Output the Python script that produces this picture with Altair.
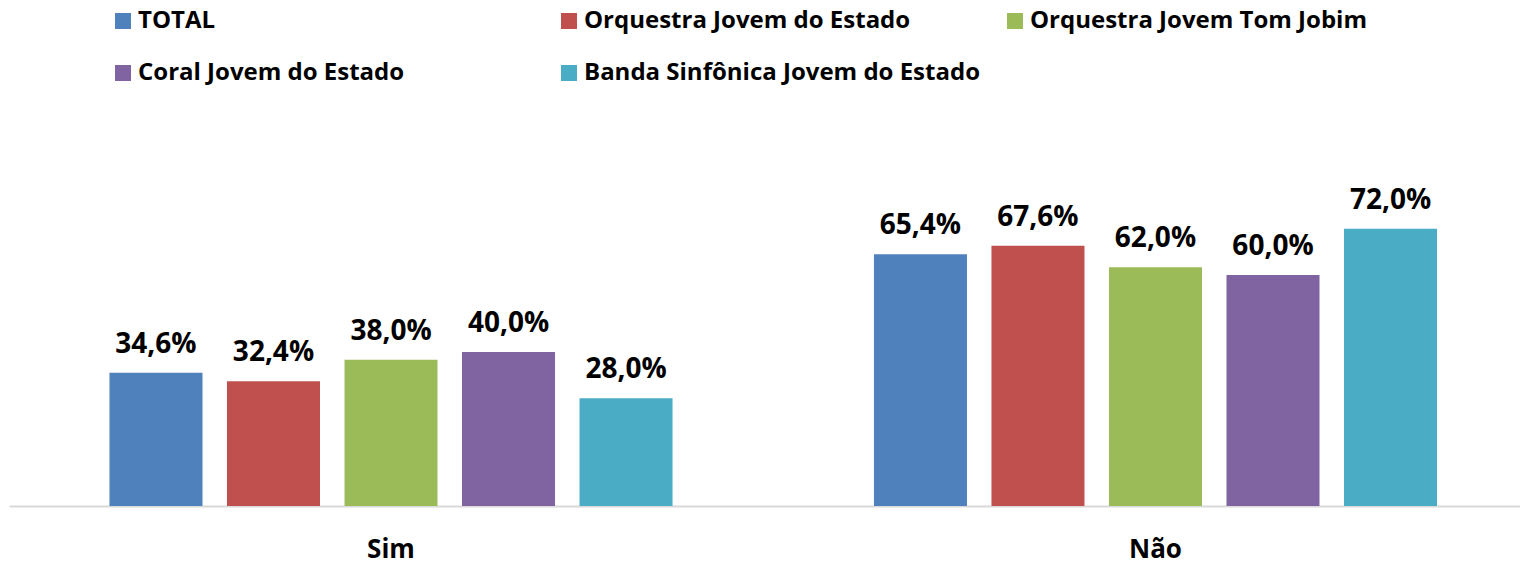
import altair as alt
import pandas as pd

categories = ["Sim", "Não"]
series = [
    "TOTAL",
    "Orquestra Jovem do Estado",
    "Orquestra Jovem Tom Jobim",
    "Coral Jovem do Estado",
    "Banda Sinfônica Jovem do Estado",
]
sim_values = [34.6, 32.4, 38.0, 40.0, 28.0]
nao_values = [65.4, 67.6, 62.0, 60.0, 72.0]
colors = ["#4F81BD", "#C0504D", "#9BBB59", "#8064A2", "#4BACC6"]

rows = []
for cat, vals in zip(categories, [sim_values, nao_values]):
    for s, v in zip(series, vals):
        rows.append({"cat": cat, "serie": s, "valor": v,
                     "rotulo": f"{v:.1f}%".replace(".", ",")})
df = pd.DataFrame(rows)

FONT = "Open Sans"

base = alt.Chart(df).encode(
    x=alt.X(
        "cat:N", sort=categories,
        scale=alt.Scale(paddingInner=0.2315, paddingOuter=0.104, align=0.555),
        axis=alt.Axis(title=None, labelAngle=0, ticks=False, tickSize=0,
                      labelPadding=51, labelBaseline="alphabetic",
                      labelFontSize=26, labelFontWeight="bold", labelFont=FONT,
                      labelColor="black", domainColor="#d9d9d9", domainWidth=2,
                      grid=False),
    ),
    xOffset=alt.XOffset("serie:N", sort=series,
                        scale=alt.Scale(paddingInner=0.2085, paddingOuter=0.104)),
    y=alt.Y("valor:Q", scale=alt.Scale(domain=[0, 80]), axis=None),
)

bars = base.mark_bar().encode(
    color=alt.Color(
        "serie:N",
        scale=alt.Scale(domain=series, range=colors),
        legend=alt.Legend(
            title=None, orient="none", legendX=102, legendY=-189,
            direction="horizontal",
            columns=3, gridAlign="all", columnPadding=23, rowPadding=28,
            symbolType="square", symbolSize=256, symbolStrokeWidth=0,
            labelFont=FONT, labelFontSize=24, labelFontWeight="bold",
            labelColor="black", labelOffset=3, labelLimit=800, padding=0,
        ),
    )
)

labels = base.mark_text(
    dy=-20, baseline="alphabetic", fontSize=28, fontWeight="bold",
    font=FONT, color="black",
).encode(text="rotulo:N")

chart = (
    alt.layer(bars, labels)
    .properties(
        width=1511, height=308,
        autosize=alt.AutoSizeParams(type="none"),
        padding={"left": 1, "top": 190, "right": 0, "bottom": 55},
    )
    .configure_view(stroke=None)
)

chart.save("out.html", embed_options={"renderer": "svg", "actions": False})
